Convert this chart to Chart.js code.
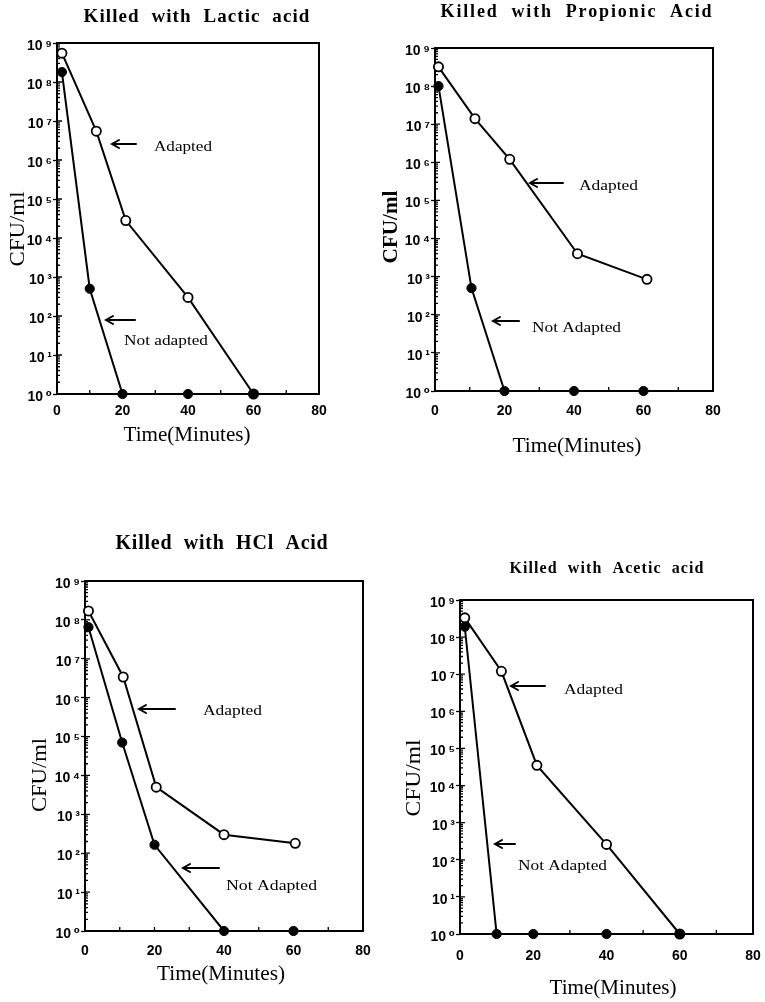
<!DOCTYPE html>
<html><head><meta charset="utf-8">
<script src="https://cdn.jsdelivr.net/npm/chart.js@4.4.0/dist/chart.umd.min.js"></script>
<style>
html,body{margin:0;padding:0;background:#fff;}
#wrap{position:relative;width:765px;height:1002px;background:#fff;}
#wrap canvas{position:absolute;left:0;top:0;}
</style>
</head><body>
<div id="wrap"></div>
<script>
// ---------- data ----------
const timeTicks = [0, 20, 40, 60, 80];
const timeMinorTicks = [10, 30, 50, 70];
const cfuDecades = [1, 10, 100, 1e3, 1e4, 1e5, 1e6, 1e7, 1e8, 1e9];
const cfuMinorMultipliers = [2, 3, 4, 5, 6, 7, 8, 9];

const lacticAdaptedTime = [1.5, 12, 21, 40, 60];
const lacticAdaptedCfu = [5.5e8, 5.5e6, 2.8e4, 300, 1];
const lacticNotAdaptedTime = [1.5, 10, 20, 40, 60];
const lacticNotAdaptedCfu = [1.8e8, 500, 1, 1, 1];

const propionicAdaptedTime = [1, 11.5, 21.5, 41, 61];
const propionicAdaptedCfu = [3.2e8, 1.4e7, 1.2e6, 4000, 850];
const propionicNotAdaptedTime = [1, 10.5, 20, 40, 60];
const propionicNotAdaptedCfu = [1e8, 500, 1, 1, 1];

const hclAdaptedTime = [1, 11, 20.5, 40, 60.5];
const hclAdaptedCfu = [1.7e8, 3.4e6, 5000, 300, 180];
const hclNotAdaptedTime = [1, 10.7, 20, 40, 60];
const hclNotAdaptedCfu = [6.5e7, 7e4, 165, 1, 1];

const aceticAdaptedTime = [1.3, 11.3, 21, 40, 60];
const aceticAdaptedCfu = [3.3e8, 1.2e7, 3.5e4, 260, 1];
const aceticNotAdaptedTime = [1.3, 10, 20, 40, 60];
const aceticNotAdaptedCfu = [1.9e8, 1, 1, 1, 1];

const SUP = ['\u2070','\u00B9','\u00B2','\u00B3','\u2074','\u2075','\u2076','\u2077','\u2078','\u2079'];

// ---------- layout ----------
const W = 765, H = 1002, YW = 45, XH = 30;
const SERIF = '"Liberation Serif", "DejaVu Serif", serif';
const SANS = '"Liberation Sans", "DejaVu Sans", sans-serif';

const panels = [
  { area:{left:57,top:43,right:319,bottom:394}, xPad:9,
    adaptedX:lacticAdaptedTime, adaptedY:lacticAdaptedCfu, notX:lacticNotAdaptedTime, notY:lacticNotAdaptedCfu,
    texts:[
      {text:'Killed  with  Lactic  acid', x:197, y:22, w:227, font:'bold 19px '+SERIF, spacing:true},
      {text:'CFU/ml', x:18, y:229, w:75, font:'21px '+SERIF, rotate:true},
      {text:'Time(Minutes)', x:187, y:441, w:127, font:'20px '+SERIF},
      {text:'Adapted', x:183, y:151, w:58, font:'15px '+SERIF},
      {text:'Not adapted', x:166, y:345, w:84, font:'15px '+SERIF}
    ],
    arrows:[{x1:112,x2:136,y:144},{x1:106,x2:135,y:320}] },
  { area:{left:435,top:48,right:713,bottom:391}, xPad:12,
    adaptedX:propionicAdaptedTime, adaptedY:propionicAdaptedCfu, notX:propionicNotAdaptedTime, notY:propionicNotAdaptedCfu,
    texts:[
      {text:'Killed  with  Propionic  Acid', x:577, y:17, w:273, font:'bold 18px '+SERIF, spacing:true},
      {text:'CFU/ml', x:392, y:227, w:73, font:'bold 21px '+SERIF, rotate:true},
      {text:'Time(Minutes)', x:577, y:452, w:129, font:'20px '+SERIF},
      {text:'Adapted', x:608.5, y:190, w:59, font:'15px '+SERIF},
      {text:'Not Adapted', x:576.5, y:332, w:89, font:'15px '+SERIF}
    ],
    arrows:[{x1:530,x2:563,y:183},{x1:493,x2:519,y:321}] },
  { area:{left:85,top:581,right:363,bottom:931}, xPad:12,
    adaptedX:hclAdaptedTime, adaptedY:hclAdaptedCfu, notX:hclNotAdaptedTime, notY:hclNotAdaptedCfu,
    texts:[
      {text:'Killed  with  HCl  Acid', x:222, y:549, w:213, font:'bold 20px '+SERIF, spacing:true},
      {text:'CFU/ml', x:40, y:775, w:74, font:'21px '+SERIF, rotate:true},
      {text:'Time(Minutes)', x:221, y:980, w:128, font:'20px '+SERIF},
      {text:'Adapted', x:232.5, y:715, w:59, font:'15px '+SERIF},
      {text:'Not Adapted', x:271.5, y:890, w:91, font:'15px '+SERIF}
    ],
    arrows:[{x1:139,x2:175,y:709},{x1:183,x2:219,y:868}] },
  { area:{left:460,top:600,right:753,bottom:934}, xPad:14,
    adaptedX:aceticAdaptedTime, adaptedY:aceticAdaptedCfu, notX:aceticNotAdaptedTime, notY:aceticNotAdaptedCfu,
    texts:[
      {text:'Killed  with  Acetic  acid', x:607, y:573, w:195, font:'bold 16px '+SERIF, spacing:true},
      {text:'CFU/ml', x:414, y:778, w:77, font:'21px '+SERIF, rotate:true},
      {text:'Time(Minutes)', x:613, y:994, w:127, font:'20px '+SERIF},
      {text:'Adapted', x:593.5, y:694, w:59, font:'15px '+SERIF},
      {text:'Not Adapted', x:562.5, y:870, w:89, font:'15px '+SERIF}
    ],
    arrows:[{x1:511,x2:545,y:686},{x1:495,x2:515,y:844}] }
];

function drawFit(ctx, t) {
  ctx.save();
  ctx.font = t.font;
  ctx.fillStyle = '#000';
  ctx.textAlign = 'left';
  ctx.textBaseline = t.rotate ? 'middle' : 'alphabetic';
  if ('letterSpacing' in ctx) ctx.letterSpacing = '0px';
  let w = ctx.measureText(t.text).width;
  if (t.spacing && 'letterSpacing' in ctx) {
    const ls = Math.max(0, (t.w - w) / t.text.length);
    ctx.letterSpacing = ls.toFixed(2) + 'px';
    w = ctx.measureText(t.text).width;
  }
  const sx = t.w / w;
  ctx.translate(t.x, t.y);
  if (t.rotate) {
    ctx.rotate(-Math.PI / 2);
    ctx.fillStyle = '#fff';
    ctx.fillRect(-t.w / 2 - 2, -9, t.w + 4, 18);
    ctx.fillStyle = '#000';
  }
  ctx.scale(sx, 1);
  ctx.fillText(t.text, -w / 2, 0);
  if ('letterSpacing' in ctx) ctx.letterSpacing = '0px';
  ctx.restore();
}

const framePlugin = {
  id: 'frameAndTicks',
  beforeDatasetsDraw(chart) {
    const ctx = chart.ctx, a = chart.chartArea;
    const xs = chart.scales.x, ys = chart.scales.y;
    ctx.save();
    ctx.strokeStyle = '#000';
    ctx.lineWidth = 2;
    ctx.strokeRect(a.left, a.top, a.right - a.left, a.bottom - a.top);
    ctx.lineWidth = 1.3;
    ctx.beginPath();
    timeMinorTicks.concat(timeTicks).forEach(v => {
      const px = xs.getPixelForValue(v);
      ctx.moveTo(px, a.bottom); ctx.lineTo(px, a.bottom - 4);
    });
    cfuDecades.slice(0, -1).forEach(d => {
      cfuMinorMultipliers.forEach(m => {
        const py = ys.getPixelForValue(d * m);
        ctx.moveTo(a.left, py); ctx.lineTo(a.left + 3, py);
      });
    });
    cfuDecades.forEach(d => {
      const py = ys.getPixelForValue(d);
      ctx.moveTo(a.left, py); ctx.lineTo(a.left + 5, py);
    });
    ctx.stroke();
    ctx.restore();
  },
  afterDraw(chart) {
    const p = chart.config.options.panel;
    const ctx = chart.ctx;
    p.texts.forEach(t => drawFit(ctx, t));
    ctx.save();
    ctx.strokeStyle = '#000';
    ctx.lineWidth = 2;
    ctx.lineCap = 'round';
    p.arrows.forEach(ar => {
      ctx.beginPath();
      ctx.moveTo(ar.x2, ar.y); ctx.lineTo(ar.x1, ar.y);
      ctx.moveTo(ar.x1 + 7, ar.y - 4); ctx.lineTo(ar.x1, ar.y); ctx.lineTo(ar.x1 + 7, ar.y + 4);
      ctx.stroke();
    });
    ctx.restore();
  }
};

function makeChart(p) {
  const c = document.createElement('canvas');
  c.width = W; c.height = H;
  c.style.width = W + 'px'; c.style.height = H + 'px';
  document.getElementById('wrap').appendChild(c);
  const a = p.area;
  new Chart(c.getContext('2d'), {
    type: 'line',
    data: {
      datasets: [
        { label: 'Not adapted',
          data: p.notX.map((x, i) => ({ x: x, y: p.notY[i] })),
          borderColor: '#000', borderWidth: 2, tension: 0, fill: false, clip: false,
          pointRadius: 4.6, pointBackgroundColor: '#000', pointBorderColor: '#000', pointBorderWidth: 1 },
        { label: 'Adapted',
          data: p.adaptedX.map((x, i) => ({ x: x, y: p.adaptedY[i] })),
          borderColor: '#000', borderWidth: 2, tension: 0, fill: false, clip: false,
          pointRadius: 4.6, pointBackgroundColor: '#fff', pointBorderColor: '#000', pointBorderWidth: 1.8 }
      ]
    },
    options: {
      panel: p,
      responsive: false, animation: false, devicePixelRatio: 1,
      layout: { padding: { left: a.left - YW, top: a.top, right: W - a.right, bottom: H - a.bottom - XH } },
      plugins: { legend: { display: false }, tooltip: { enabled: false }, title: { display: false } },
      scales: {
        x: {
          type: 'linear', min: 0, max: 80,
          afterFit(s) { s.height = XH; s.paddingLeft = 0; s.paddingRight = 0; },
          afterBuildTicks(s) { s.ticks = timeTicks.map(v => ({ value: v })); },
          grid: { display: true, drawOnChartArea: false, drawTicks: false, color: '#000' },
          border: { display: false },
          ticks: { color: '#000', padding: p.xPad, maxRotation: 0, autoSkip: false,
                   font: { family: SANS, weight: 'bold', size: 14 } }
        },
        y: {
          type: 'logarithmic', min: 1, max: 1e9,
          afterFit(s) { s.width = YW; s.paddingTop = 0; s.paddingBottom = 0; },
          afterBuildTicks(s) { s.ticks = cfuDecades.map(v => ({ value: v })); },
          grid: { display: true, drawOnChartArea: false, drawTicks: true, tickLength: 4, tickWidth: 1.3, color: '#000' },
          border: { display: false },
          ticks: { color: '#000', padding: 1, labelOffset: 3, autoSkip: false,
                   font: { family: SANS, weight: 'bold', size: 14 },
                   callback: (v) => '10\u2009' + SUP[Math.round(Math.log10(v))] }
        }
      }
    },
    plugins: [framePlugin]
  });
}

panels.forEach(makeChart);
</script>
</body></html>
